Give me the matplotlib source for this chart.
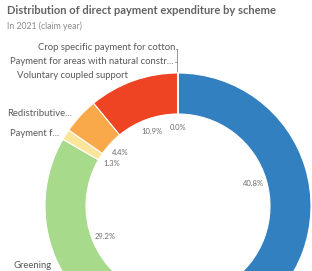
import matplotlib.pyplot as plt
import numpy as np

# ------------------------------------------------------------
# DATA (share of direct payment expenditure, %, clockwise from top)
# ------------------------------------------------------------
schemes = [
    "Basic payment",
    "Other",
    "Greening",
    "Payment f...",
    "Redistributive...",
    "Voluntary coupled support",
    "Payment for areas with natural constr...",
    "Crop specific payment for cotton",
]
shares = [40.8, 13.4, 29.2, 1.3, 4.4, 10.9, 0.02, 0.02]
value_labels = ["40.8%", None, "29.2%", "1.3%", "4.4%", "10.9%", "0.0%", None]
colors = ["#3380c0", "#8c6bb1", "#a8da8c", "#fbe59b", "#f9a94a", "#ee4424",
          "#b0b0b0", "#c8c8c8"]

# ------------------------------------------------------------
# LAYOUT (pixel coordinates, y from bottom)
# ------------------------------------------------------------
W, H = 312, 271
CX, CY = 178, H - 206
R_OUT, RING = 133, 41

plt.rcParams["font.family"] = ["Lato", "DejaVu Sans"]

fig = plt.figure(figsize=(W / 100, H / 100), dpi=100)
ax = fig.add_axes([0, 0, 1, 1])

wedges, _ = ax.pie(
    shares,
    colors=colors,
    startangle=90,
    counterclock=False,
    radius=R_OUT,
    center=(CX, CY),
    wedgeprops=dict(width=RING, edgecolor="white", linewidth=0.8),
)

ax.set_xlim(0, W)
ax.set_ylim(0, H)
ax.set_aspect("equal")
ax.axis("off")

# value labels inside the hole at the mid angle of each slice
cum = np.cumsum([0] + shares)
for i, lab in enumerate(value_labels):
    if lab is None:
        continue
    mid = (cum[i] + cum[i + 1]) / 2 / 100 * 2 * np.pi
    r = 79
    x = CX + r * np.sin(mid)
    y = CY + r * np.cos(mid)
    ax.text(x, y, lab, fontsize=5.5, color="#6e6e6e",
            ha="center", va="center")

# category labels outside the ring
label_pos = {
    "Greening": (14, H - 265, "left"),
    "Payment f...": (10, H - 133, "left"),
    "Redistributive...": (7, H - 114, "left"),
    "Voluntary coupled support": (128, H - 75, "right"),
    "Payment for areas with natural constr...": (174, H - 61, "right"),
    "Crop specific payment for cotton": (175, H - 48, "right"),
}
for name in schemes:
    if name not in label_pos:
        continue
    x, y, ha = label_pos[name]
    ax.text(x, y, name, fontsize=6.8, color="#595959", ha=ha, va="center")

# leader line for the tiny slices at the top
ax.plot([176.5, 176.5], [H - 49, H - 71], color="#888888", lw=0.6)
ax.plot([175.5, 176.5], [H - 49, H - 49], color="#888888", lw=0.6)
ax.plot([175, 176.5], [H - 62, H - 62], color="#888888", lw=0.6)

# title and subtitle
fig.text(7 / W, 1 - 10 / H, "Distribution of direct payment expenditure by scheme",
         fontsize=8.0, fontweight="bold", color="#636363", va="center")
fig.text(7 / W, 1 - 26 / H, "In 2021 (claim year)",
         fontsize=6.2, color="#8a8a8a", va="center")

fig.savefig("out.png", dpi=100, facecolor="white")
